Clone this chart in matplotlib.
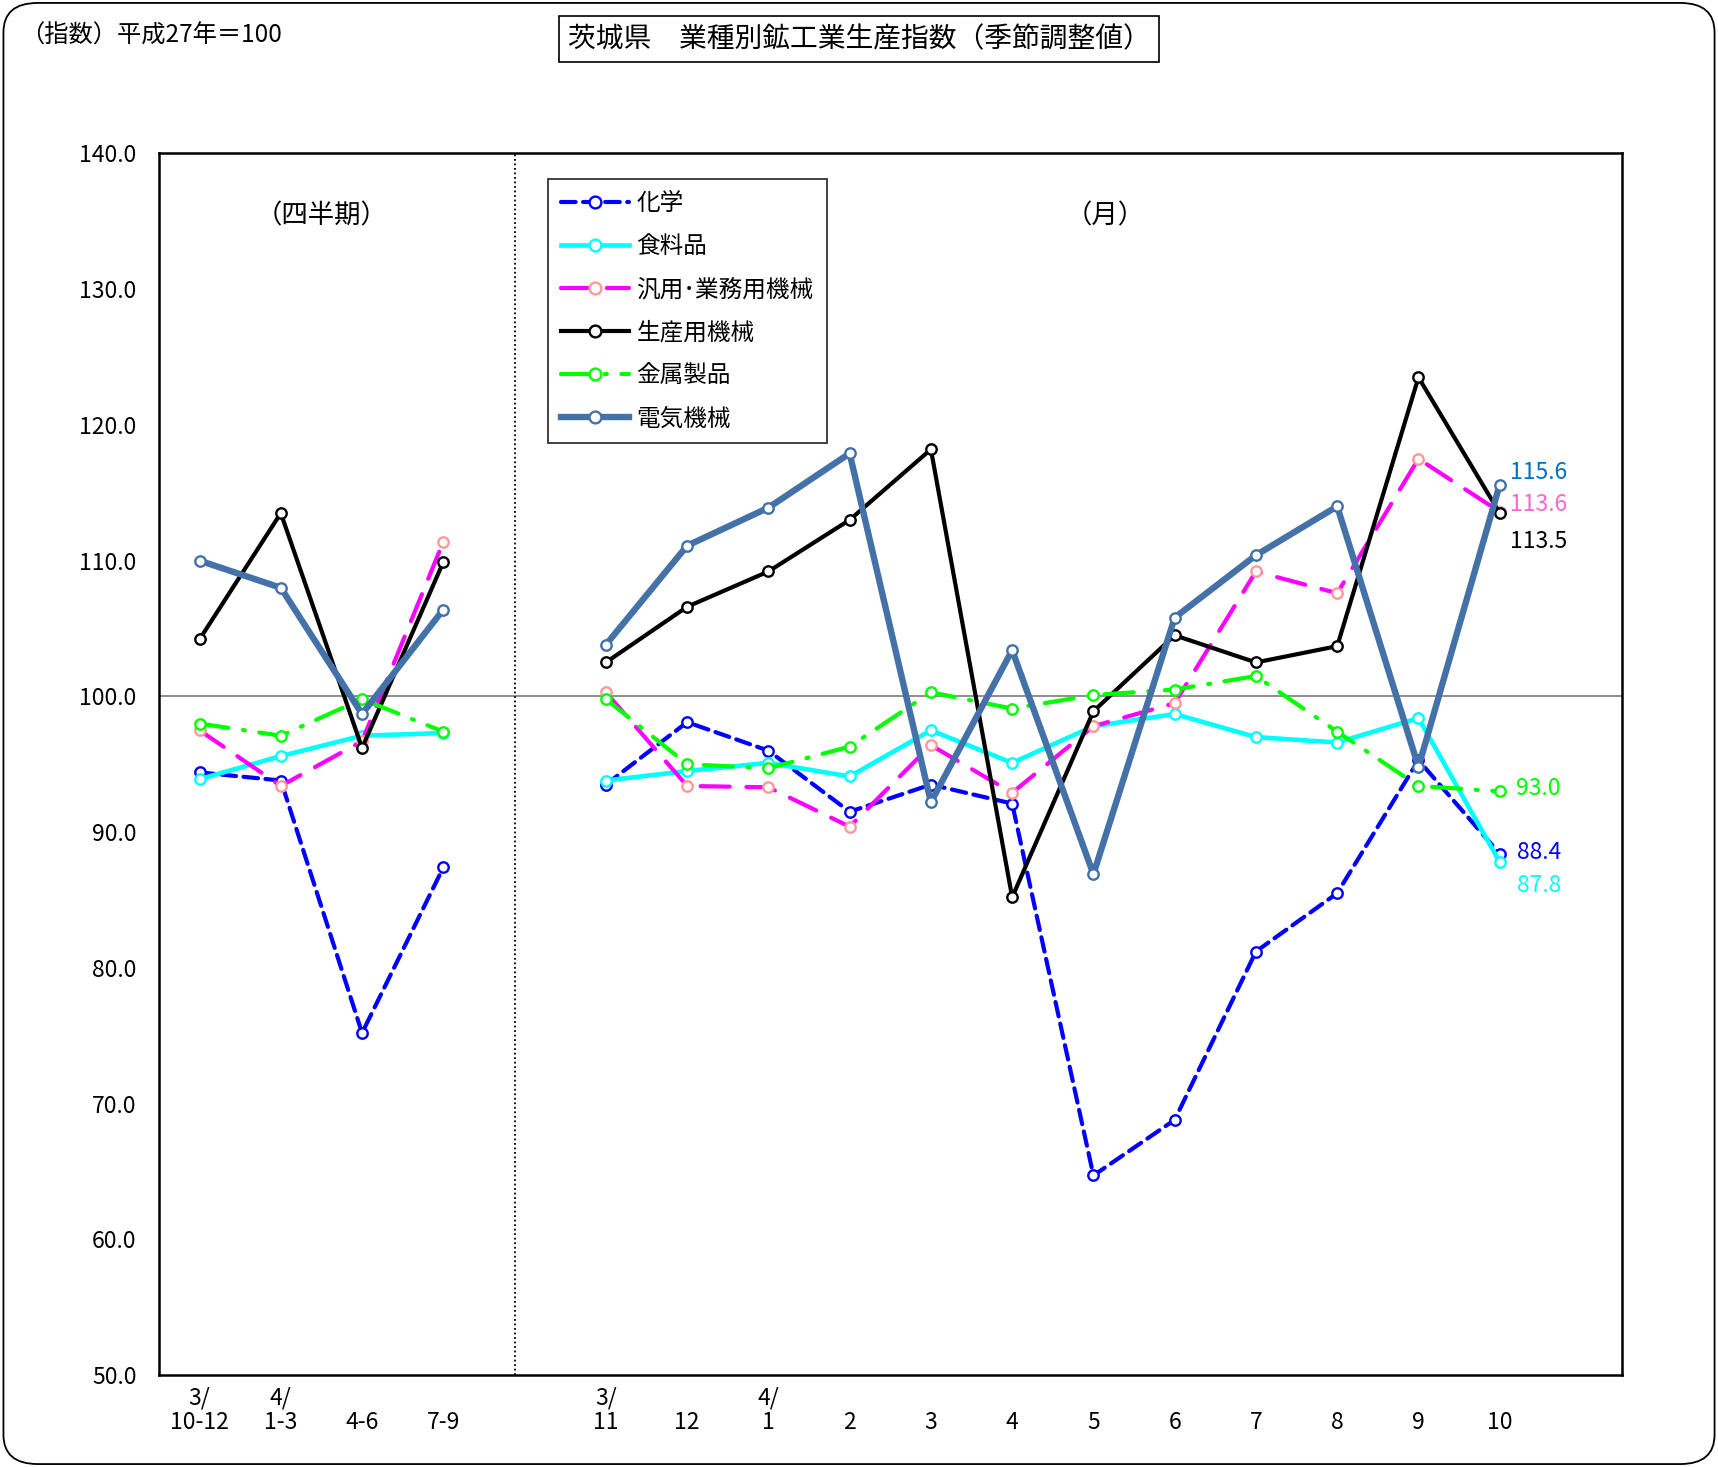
import matplotlib
matplotlib.use("Agg")
import matplotlib.pyplot as plt
from matplotlib.lines import Line2D
from matplotlib.patches import FancyBboxPatch

plt.rcParams['font.family'] = ['Noto Sans CJK JP', 'DejaVu Sans']

# ---------------- data ----------------
quarter_labels = ["3/\n10-12", "4/\n1-3", " \n4-6", " \n7-9"]
month_labels = ["3/\n11", " \n12", "4/\n1", " \n2", " \n3", " \n4", " \n5", " \n6",
                " \n7", " \n8", " \n9", " \n10"]

series_names = ["化学", "食料品", "汎用･業務用機械", "生産用機械", "金属製品", "電気機械"]

chem_q = [94.4, 93.8, 75.2, 87.4]
chem_m = [93.5, 98.1, 96.0, 91.5, 93.5, 92.1, 64.7, 68.8, 81.2, 85.5, 95.3, 88.4]
food_q = [93.9, 95.6, 97.1, 97.3]
food_m = [93.8, 94.5, 95.1, 94.1, 97.5, 95.1, 97.8, 98.7, 97.0, 96.6, 98.4, 87.8]
gen_q = [97.5, 93.4, 96.7, 111.4]
gen_m = [100.3, 93.4, 93.3, 90.4, 96.4, 92.9, 97.8, 99.5, 109.2, 107.6, 117.5, 113.6]
prod_q = [104.2, 113.5, 96.2, 109.9]
prod_m = [102.5, 106.6, 109.2, 113.0, 118.2, 85.2, 98.9, 104.5, 102.5, 103.7, 123.5, 113.5]
metal_q = [98.0, 97.1, 99.8, 97.4]
metal_m = [99.8, 95.0, 94.7, 96.3, 100.3, 99.1, 100.1, 100.5, 101.5, 97.4, 93.4, 93.0]
elec_q = [110.0, 108.0, 98.7, 106.4]
elec_m = [103.8, 111.1, 113.9, 117.9, 92.2, 103.4, 86.9, 105.8, 110.4, 114.0, 94.8, 115.6]

# ---------------- styles ----------------
styles = [
    dict(color="#0000FF", lw=3.0, dashes=(3.5, 1.8), mec="#0000FF"),
    dict(color="#00FFFF", lw=3.3, dashes=None, mec="#00FFFF"),
    dict(color="#FF00FF", lw=3.0, dashes=(7, 4), mec="#FF9999"),
    dict(color="#000000", lw=3.0, dashes=None, mec="#000000"),
    dict(color="#00FF00", lw=3.0, dashes=(7, 3.5, 0.5, 3.5), mec="#00FF00"),
    dict(color="#4472A8", lw=4.6, dashes=None, mec="#4472A8"),
]
label_colors = ["#0000FF", "#00FFFF", "#FF66CC", "#000000", "#00FF00", "#0070C0"]

fig = plt.figure(figsize=(17.18, 14.67), dpi=100)
ax = fig.add_axes([0.0925, 0.0627, 0.8514, 0.8327])

xq = [0.5 + i for i in range(len(quarter_labels))]
xm = [5.5 + i for i in range(len(month_labels))]

data = [(chem_q, chem_m), (food_q, food_m), (gen_q, gen_m),
        (prod_q, prod_m), (metal_q, metal_m), (elec_q, elec_m)]

ax.axhline(100, color="#707070", lw=1.1, zorder=1)
ax.plot([4.38, 4.38], [50, 140], color="black", lw=1.3, ls=(0, (1, 1.5)), zorder=1)

handles = []
for (q, m), st, name in zip(data, styles, series_names):
    for xs, ys in ((xq, q), (xm, m)):
        ln, = ax.plot(xs, ys, color=st["color"], lw=st["lw"], marker="o", ms=7.5,
                      mfc="white", mec=st["mec"], mew=1.7, solid_capstyle="round",
                      dash_capstyle="round", zorder=3)
        if st["dashes"]:
            ln.set_dashes(st["dashes"])
    h = Line2D([], [], color=st["color"], lw=st["lw"], marker="o", ms=8.5,
               mfc="white", mec=st["mec"], mew=1.7, dash_capstyle="round")
    if st["dashes"]:
        h.set_dashes(st["dashes"])
    handles.append(h)

ax.set_xlim(0, 18)
ax.set_ylim(50, 140)
ax.set_yticks(range(50, 141, 10))
ax.set_yticklabels([f"{v:.1f}" for v in range(50, 141, 10)], fontsize=16.5)
ax.set_xticks(xq + xm)
ax.set_xticklabels(quarter_labels + month_labels, fontsize=16.5, linespacing=1.1)
ax.tick_params(axis="both", length=0)
ax.tick_params(axis="y", pad=16)
ax.tick_params(axis="x", pad=8)
for s in ax.spines.values():
    s.set_linewidth(1.8)

# end-value labels
last_vals = [chem_m[-1], food_m[-1], gen_m[-1], prod_m[-1], metal_m[-1], elec_m[-1]]
label_y = [88.5, 86.1, 114.1, 111.4, 93.2, 116.5]
for v, y, c in zip(last_vals, label_y, label_colors):
    ax.text(16.98, y, f"{v:.1f}", color=c, fontsize=16.5, ha="center", va="center")

ax.text(2.0, 135.4, "（四半期）", fontsize=19, ha="center", va="center")
ax.text(11.65, 135.4, "（月）", fontsize=19, ha="center", va="center")

leg = ax.legend(handles, series_names, loc="upper left", bbox_to_anchor=(0.266, 0.979),
                borderaxespad=0, fontsize=17, handlelength=2.9, handletextpad=0.3,
                labelspacing=0.85, frameon=True, fancybox=False, borderpad=0.55)
leg.get_frame().set_edgecolor("black")
leg.get_frame().set_linewidth(1.3)

fig.text(0.5, 0.9734, "茨城県　業種別鉱工業生産指数（季節調整値）", fontsize=20,
         ha="center", va="center",
         bbox=dict(boxstyle="square,pad=0.3", fc="white", ec="black", lw=1.2))
fig.text(0.012, 0.976, "（指数）平成27年＝100", fontsize=17.5, ha="left", va="center")

border = FancyBboxPatch((0.002, 0.002), 0.996, 0.996, boxstyle="round,pad=0,rounding_size=0.02",
                        transform=fig.transFigure, fc="none", ec="black", lw=1.3)
fig.patches.append(border)

fig.savefig("out.png", dpi=100)
